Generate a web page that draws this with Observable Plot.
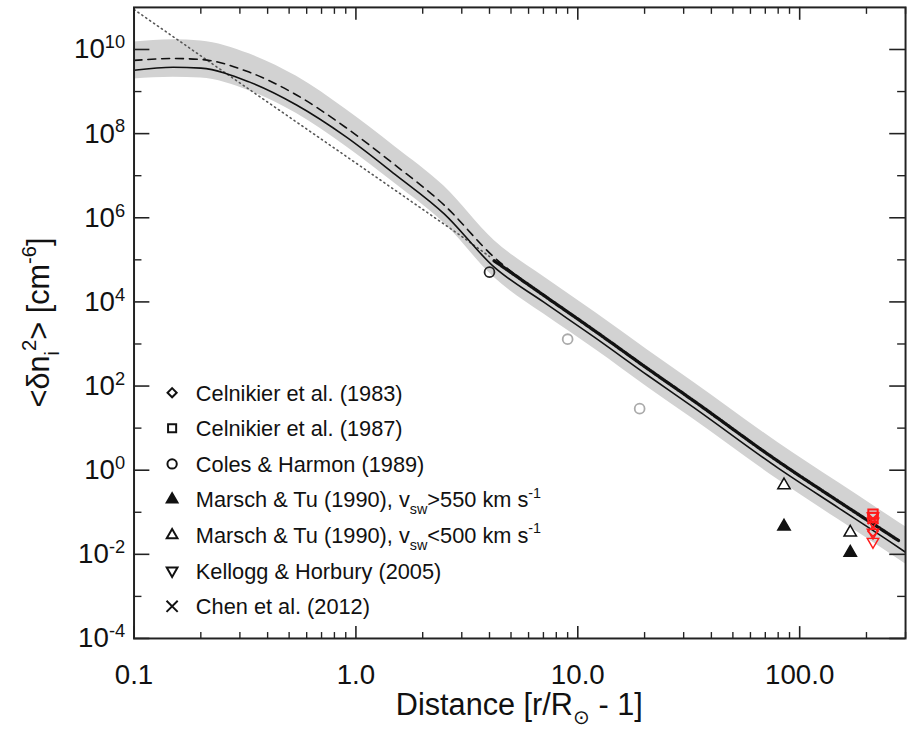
<!DOCTYPE html>
<html><head><meta charset="utf-8">
<script src="https://cdn.jsdelivr.net/npm/d3@7"></script>
<script src="https://cdn.jsdelivr.net/npm/@observablehq/plot@0.6"></script>
<style>
html,body{margin:0;padding:0;background:#fff;overflow:hidden;}
#chart{position:relative;width:910px;height:732px;overflow:hidden;}
</style></head><body><div id="chart"></div>
<script>
// ---------- data ----------
const distance    = [0.1, 0.15, 0.2, 0.33, 0.54, 0.9, 1.5, 2.5, 4.2, 7, 12, 20.7, 33, 80, 150, 255, 300];
const modelSolid  = [3.2e9, 3.8e9, 3.6e9, 1.7e9, 4.8e8, 8.5e7, 1.08e7, 1.24e6, 6.7e4, 1.0e4, 1.4e3, 178, 32, 1.12, 0.126, 0.020, 0.0112];
const bandHigh    = [1.5e10, 1.7e10, 1.6e10, 7.9e9, 2.3e9, 3.8e8, 4.9e7, 5.6e6, 2.9e5, 4.0e4, 5.6e3, 710, 126, 4.5, 0.50, 0.079, 0.045];
const bandLow     = [2.0e9, 2.2e9, 2.1e9, 1.05e9, 3.0e8, 5.0e7, 6.5e6, 7.4e5, 3.8e4, 5.2e3, 740, 93, 16.6, 0.59, 0.066, 0.0105, 0.0059];

const dashedX = [0.1, 0.15, 0.2, 0.33, 0.54, 0.9, 1.5, 2.5, 4.2, 7];
const dashedY = [5.5e9, 6.1e9, 5.8e9, 2.9e9, 8.3e8, 1.4e8, 1.8e7, 2.0e6, 1.15e5, 1.46e4];

const dottedX = [0.1, 0.3, 1, 3, 4];
const dottedY = [8.9e10, 1.6e9, 2.0e7, 3.6e5, 1.2e5];

const celnikierRunX = [4.2, 7, 12, 20.7, 33, 80, 150, 255, 280];
const celnikierRunY = [9.5e4, 1.45e4, 2.0e3, 257, 46, 1.62, 0.18, 0.029, 0.021];

// observations
const colesX = [4.0, 9.0, 19];
const colesY = [5.1e4, 1.3e3, 29];
const colesShade = ["black", "grey", "grey"];
const marschFastX = [85, 169];
const marschFastY = [0.046, 0.011];
const marschSlowX = [85, 169];
const marschSlowY = [0.44, 0.033];
const cel87X = [214, 214];
const cel87Y = [0.090, 0.075];
const chenX = [214];
const chenY = [0.070];
const kelloggX = [214, 214, 214, 214];
const kelloggY = [0.080, 0.060, 0.033, 0.020];
const cel83X = [214];
const cel83Y = [0.035];

// axes
const xMajorTicks = [0.1, 1, 10, 100];
const xTickLabels = ["0.1", "1.0", "10.0", "100.0"];
const xMinorTicks = [0.2,0.3,0.4,0.5,0.6,0.7,0.8,0.9, 2,3,4,5,6,7,8,9, 20,30,40,50,60,70,80,90, 200,300];
const yMajorTicks = [1e-4, 1e-2, 1, 1e2, 1e4, 1e6, 1e8, 1e10];
const yTickExp    = ["-4", "-2", "0", "2", "4", "6", "8", "10"];
const yMinorTicks = [1e-3, 1e-1, 10, 1e3, 1e5, 1e7, 1e9];

const legendItems = [
  {sym: "diamond", fill: false, parts: [["Celnikier et al. (1983)", ""]]},
  {sym: "square", fill: false, parts: [["Celnikier et al. (1987)", ""]]},
  {sym: "circle", fill: false, parts: [["Coles & Harmon (1989)", ""]]},
  {sym: "triangle", fill: true, parts: [["Marsch & Tu (1990), v", ""], ["sw", "sub"], [">550 km s", ""], ["-1", "sup"]]},
  {sym: "triangle", fill: false, parts: [["Marsch & Tu (1990), v", ""], ["sw", "sub"], ["<500 km s", ""], ["-1", "sup"]]},
  {sym: "triangleDown", fill: false, parts: [["Kellogg & Horbury (2005)", ""]]},
  {sym: "times", fill: false, parts: [["Chen et al. (2012)", ""]]}
];

// ---------- build ----------
const W = 920, H = 732, mL = 135, mR = 5, mT = 7, mB = 87;
const frameW = W - mL - mR, frameH = H - mT - mB;

const model = distance.map((d, i) => ({x: d, solid: modelSolid[i], lo: bandLow[i], hi: bandHigh[i]}));
const xy = (xs, ys) => xs.map((d, i) => ({x: d, y: ys[i], i}));

const triangleDown = {
  draw(ctx, size) {
    const s = Math.sqrt(size) * 0.6824, t = s / 2, u = s * Math.sqrt(3) / 2;
    ctx.moveTo(0, s); ctx.lineTo(u, -t); ctx.lineTo(-u, -t); ctx.closePath();
  }
};
const RED = "#ff1a1a";
const yLabel = new Map(yMajorTicks.map((t, i) => [t, "10^" + yTickExp[i]]));
const xLabel = new Map(xMajorTicks.map((t, i) => [t, xTickLabels[i]]));

const chart = Plot.plot({
  width: W, height: H,
  marginLeft: mL, marginRight: mR, marginTop: mT, marginBottom: mB,
  style: {fontFamily: "'Liberation Sans', Arial, sans-serif", fontSize: "28px", color: "#111", background: "transparent", overflow: "visible"},
  x: {type: "log", domain: [0.1, 300]},
  y: {type: "log", domain: [1e-4, 1e11]},
  marks: [
    Plot.areaY(model, {x: "x", y1: "lo", y2: "hi", fill: "#d2d2d2", curve: "monotone-x", clip: true}),
    Plot.line(xy(dottedX, dottedY), {x: "x", y: "y", stroke: "#555", strokeWidth: 1.6, strokeDasharray: "1.2,3.6", strokeLinecap: "round", clip: true}),
    Plot.line(xy(dashedX, dashedY), {x: "x", y: "y", stroke: "#111", strokeWidth: 1.6, strokeDasharray: "8,6", curve: "monotone-x", clip: true}),
    Plot.line(model, {x: "x", y: "solid", stroke: "#111", strokeWidth: 1.6, curve: "monotone-x", clip: true}),
    Plot.line(xy(celnikierRunX, celnikierRunY), {x: "x", y: "y", stroke: "#111", strokeWidth: 3.4, strokeDasharray: "4,1.5,1.5,1.5", curve: "monotone-x", clip: true}),
    // observations
    Plot.dot(xy(colesX, colesY), {x: "x", y: "y", r: 5, stroke: d => colesShade[d.i] === "black" ? "#222" : "#aaa", strokeWidth: 1.8, fill: "none"}),
    Plot.dot(xy(marschSlowX, marschSlowY), {x: "x", y: "y", symbol: "triangle2", r: 6, stroke: "#111", strokeWidth: 1.5, fill: "white"}),
    Plot.dot(xy(marschFastX, marschFastY), {x: "x", y: "y", symbol: "triangle2", r: 6, fill: "#111", stroke: "#111"}),
    Plot.dot(xy(cel87X, cel87Y), {x: "x", y: "y", symbol: "square2", r: 6, stroke: RED, strokeWidth: 2, fill: "none"}),
    Plot.dot(xy(kelloggX, kelloggY), {x: "x", y: "y", symbol: triangleDown, r: 5.5, stroke: RED, strokeWidth: 1.5, fill: "none"}),
    Plot.dot(xy(cel83X, cel83Y), {x: "x", y: "y", symbol: "diamond2", r: 4.5, stroke: RED, strokeWidth: 1.5, fill: "none"}),
    Plot.dot(xy(chenX, chenY), {x: "x", y: "y", symbol: "times", r: 5, stroke: RED, strokeWidth: 2}),
    // frame and ticks
    Plot.frame({stroke: "#222", strokeWidth: 2}),
    Plot.tickX(xMajorTicks, {x: d => d, insetTop: frameH - 12, stroke: "#222", strokeWidth: 1.6}),
    Plot.tickX(xMinorTicks, {x: d => d, insetTop: frameH - 6, stroke: "#222", strokeWidth: 1.4}),
    Plot.tickX(xMajorTicks, {x: d => d, insetBottom: frameH - 13, stroke: "#222", strokeWidth: 1.6}),
    Plot.tickX(xMinorTicks, {x: d => d, insetBottom: frameH - 7, stroke: "#222", strokeWidth: 1.4}),
    Plot.tickY(yMajorTicks, {y: d => d, insetRight: frameW - 16, stroke: "#222", strokeWidth: 1.6}),
    Plot.tickY(yMinorTicks, {y: d => d, insetRight: frameW - 8, stroke: "#222", strokeWidth: 1.4}),
    Plot.tickY(yMajorTicks, {y: d => d, insetLeft: frameW - 16, stroke: "#222", strokeWidth: 1.6}),
    Plot.tickY(yMinorTicks, {y: d => d, insetLeft: frameW - 8, stroke: "#222", strokeWidth: 1.4}),
    Plot.axisX({ticks: xMajorTicks, tickSize: 0, tickPadding: 26, tickFormat: d => xLabel.get(d), label: null}),
    Plot.axisY({ticks: yMajorTicks, tickSize: 0, tickPadding: 9, tickFormat: d => yLabel.get(d), label: null})
  ]
});
document.getElementById("chart").appendChild(chart);

const svg = d3.select(chart);
// superscript exponents on y tick labels
svg.selectAll("text").each(function() {
  const t = this.textContent;
  if (t.startsWith("10^")) {
    const sel = d3.select(this);
    sel.text("10");
    sel.append("tspan").attr("dy", "-0.55em").attr("font-size", "0.66em").text(t.slice(3));
  }
});

function richText(g, parts, baseSize) {
  const txt = g.append("text");
  let shift = 0;
  parts.forEach(([s, kind]) => {
    const ts = txt.append("tspan").text(s);
    const target = kind === "sub" ? 0.3 : kind === "sup" ? -0.45 : 0;
    ts.attr("dy", (target - shift) * baseSize).attr("font-size", kind ? baseSize * 0.66 : baseSize);
    shift = target;
  });
  return txt;
}

// axis titles
const xt = svg.append("g").attr("transform", `translate(${mL + frameW / 2},723)`).attr("text-anchor", "middle");
richText(xt, [["Distance [r/R", ""], ["\u2299", "sub"], [" - 1]", ""]], 31);
const yt = svg.append("g").attr("transform", `translate(50,${mT + frameH / 2}) rotate(-90)`).attr("text-anchor", "middle");
richText(yt, [["<\u03b4n", ""], ["i", "sub"], ["2", "sup"], ["> [cm", ""], ["-6", "sup"], ["]", ""]], 31);

// legend
const lg = svg.append("g").attr("text-anchor", "start");
legendItems.forEach((it, i) => {
  const row = lg.append("g").attr("transform", `translate(174,${397 + i * 36})`);
  const type = it.sym === "diamond" ? d3.symbolDiamond2 : it.sym === "square" ? d3.symbolSquare2 :
    it.sym === "circle" ? d3.symbolCircle : it.sym === "triangle" ? d3.symbolTriangle2 :
    it.sym === "times" ? d3.symbolTimes : triangleDown;
  const size = it.sym === "diamond" ? 55 : it.sym === "circle" ? 70 : 85;
  row.append("path").attr("d", d3.symbol(type, size)())
    .attr("fill", it.fill ? "#111" : "none").attr("stroke", "#111").attr("stroke-width", 2);
  const tg = row.append("g").attr("transform", "translate(24,8)");
  richText(tg, it.parts, 22);
});
</script></body></html>
